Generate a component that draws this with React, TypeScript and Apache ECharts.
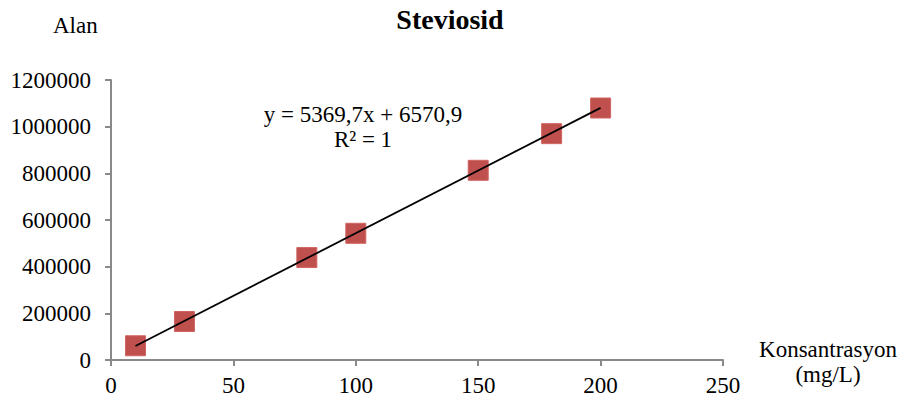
import React, { useEffect, useRef } from "react";
import * as echarts from "echarts";

// Concentration (mg/L) and measured peak area
const concentrations = [10, 30, 80, 100, 150, 180, 200];
const areas = [61000, 165000, 439000, 543000, 813000, 970000, 1080000];

// Linear fit shown on the chart
const slope = 5369.7;
const intercept = 6570.9;
const rSquared = 1;

const xTicks = [0, 50, 100, 150, 200, 250];
const yTicks = [0, 200000, 400000, 600000, 800000, 1000000, 1200000];

const FONT = "'Liberation Serif', 'Times New Roman', serif";

const fmtComma = (v: number) => String(v).replace(".", ",");

export default function App() {
  const ref = useRef<HTMLDivElement>(null);

  useEffect(() => {
    if (!ref.current) return;
    const chart = echarts.init(ref.current, undefined, { renderer: "svg" });

    const xMin = concentrations[0];
    const xMax = concentrations[concentrations.length - 1];
    const fitLine = [
      [xMin, slope * xMin + intercept],
      [xMax, slope * xMax + intercept],
    ];

    chart.setOption({
      animation: false,
      backgroundColor: "#ffffff",
      textStyle: { fontFamily: FONT, color: "#000" },
      grid: { left: 111, right: 178, top: 80, bottom: 46, containLabel: false },
      xAxis: {
        type: "value",
        min: xTicks[0],
        max: xTicks[xTicks.length - 1],
        interval: 50,
        axisLine: { show: true, lineStyle: { color: "#898989", width: 2 } },
        axisTick: { show: true, length: 6, lineStyle: { color: "#898989", width: 2 } },
        axisLabel: {
          fontFamily: FONT,
          fontSize: 23,
          color: "#000",
          margin: 14,
          formatter: (v: number) => String(v),
        },
        splitLine: { show: false },
      },
      yAxis: {
        type: "value",
        min: yTicks[0],
        max: yTicks[yTicks.length - 1],
        interval: 200000,
        axisLine: { show: true, lineStyle: { color: "#898989", width: 2 } },
        axisTick: { show: true, length: 6, lineStyle: { color: "#898989", width: 2 } },
        axisLabel: {
          fontFamily: FONT,
          fontSize: 23,
          color: "#000",
          margin: 20,
          formatter: (v: number) => String(v),
        },
        splitLine: { show: false },
      },
      graphic: [
        {
          type: "text",
          x: 450,
          y: 5,
          style: {
            text: "Steviosid",
            font: `bold 28px ${FONT}`,
            fill: "#000",
            align: "center",
          },
        },
        {
          type: "text",
          left: 53,
          top: 14,
          style: { text: "Alan", font: `23px ${FONT}`, fill: "#000" },
        },
        {
          type: "text",
          x: 828,
          y: 337,
          style: {
            text: "Konsantrasyon\n(mg/L)",
            font: `23px ${FONT}`,
            fill: "#000",
            align: "center",
            lineHeight: 25,
          },
        },
        {
          type: "text",
          x: 363,
          y: 102,
          style: {
            text: `y = ${fmtComma(slope)}x + ${fmtComma(intercept)}\nR² = ${rSquared}`,
            font: `23px ${FONT}`,
            fill: "#000",
            align: "center",
            lineHeight: 25,
          },
        },
      ],
      series: [
        {
          type: "line",
          data: fitLine,
          symbol: "none",
          lineStyle: { color: "#000", width: 1.8 },
          z: 3,
        },
        {
          type: "scatter",
          data: concentrations.map((c, i) => [c, areas[i]]),
          symbol: "rect",
          symbolSize: 20,
          itemStyle: { color: "#C0504D", borderColor: "#cf6561", borderWidth: 1, opacity: 1 },
          z: 2,
        },
      ],
    });

    return () => chart.dispose();
  }, []);

  return (
    <div
      ref={ref}
      style={{ position: "fixed", left: 0, top: 0, width: 901, height: 406 }}
    />
  );
}
